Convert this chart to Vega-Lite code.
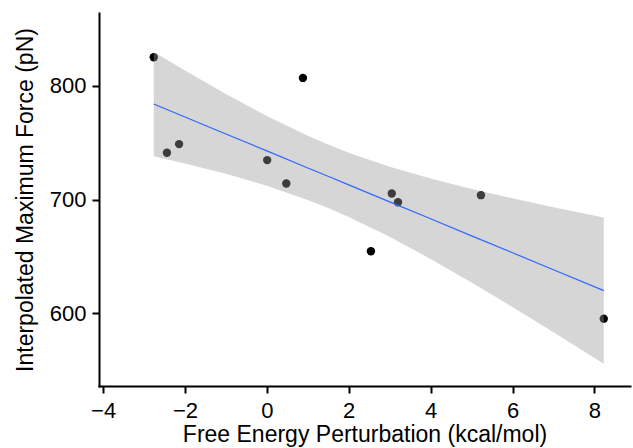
{
  "$schema": "https://vega.github.io/schema/vega-lite/v6.json",
  "width": 531,
  "height": 373,
  "autosize": {"type": "none"},
  "padding": {"left": 99, "top": 13, "right": 3, "bottom": 62},
  "background": "white",
  "datasets": {
    "pts": [
      {"fep": -2.763, "force": 825.3},
      {"fep": -2.441, "force": 741.2},
      {"fep": -2.144, "force": 748.8},
      {"fep": 0.008, "force": 734.7},
      {"fep": 0.475, "force": 714.1},
      {"fep": 0.881, "force": 807.1},
      {"fep": 2.542, "force": 654.4},
      {"fep": 3.051, "force": 705.3},
      {"fep": 3.203, "force": 697.6},
      {"fep": 5.229, "force": 703.8},
      {"fep": 8.229, "force": 595.0}
    ],
    "band": [
      {"fep": -2.763, "fit": 784.1, "lo": 738.1, "hi": 830.0},
      {"fep": -2.0, "fit": 772.7, "lo": 731.7, "hi": 813.6},
      {"fep": -1.0, "fit": 757.7, "lo": 722.6, "hi": 792.9},
      {"fep": 0.0, "fit": 742.8, "lo": 712.1, "hi": 773.5},
      {"fep": 1.0, "fit": 727.8, "lo": 699.6, "hi": 756.1},
      {"fep": 1.48, "fit": 720.7, "lo": 692.7, "hi": 748.6},
      {"fep": 2.0, "fit": 712.9, "lo": 684.6, "hi": 741.2},
      {"fep": 3.0, "fit": 697.9, "lo": 667.1, "hi": 728.8},
      {"fep": 4.0, "fit": 683.0, "lo": 647.6, "hi": 718.4},
      {"fep": 5.0, "fit": 668.0, "lo": 626.8, "hi": 709.2},
      {"fep": 6.0, "fit": 653.1, "lo": 605.2, "hi": 701.0},
      {"fep": 7.0, "fit": 638.1, "lo": 583.0, "hi": 693.2},
      {"fep": 8.229, "fit": 619.7, "lo": 555.3, "hi": 684.2}
    ]
  },
  "layer": [
    {
      "data": {"name": "pts"},
      "mark": {"type": "circle", "size": 70, "color": "black", "opacity": 1},
      "encoding": {
        "x": {"field": "fep", "type": "quantitative"},
        "y": {"field": "force", "type": "quantitative"}
      }
    },
    {
      "data": {"name": "band"},
      "mark": {"type": "area", "color": "#999999", "opacity": 0.4},
      "encoding": {
        "x": {"field": "fep", "type": "quantitative"},
        "y": {"field": "lo", "type": "quantitative"},
        "y2": {"field": "hi"}
      }
    },
    {
      "data": {"name": "band"},
      "mark": {"type": "line", "color": "#3366FF", "strokeWidth": 1.2},
      "encoding": {
        "x": {"field": "fep", "type": "quantitative"},
        "y": {"field": "fit", "type": "quantitative"}
      }
    }
  ],
  "encoding": {
    "x": {
      "field": "fep",
      "type": "quantitative",
      "scale": {"domain": [-4.10, 8.87], "nice": false, "zero": false},
      "axis": {
        "title": "Free Energy Perturbation (kcal/mol)",
        "values": [-4, -2, 0, 2, 4, 6, 8],
        "titlePadding": 2
      }
    },
    "y": {
      "field": "force",
      "type": "quantitative",
      "scale": {"domain": [535.7, 864.3], "nice": false, "zero": false},
      "axis": {
        "title": "Interpolated Maximum Force (pN)",
        "values": [600, 700, 800],
        "titlePadding": 12
      }
    }
  },
  "config": {
    "view": {"stroke": null},
    "font": "Liberation Sans",
    "axis": {
      "grid": false,
      "domainColor": "black",
      "domainWidth": 2,
      "domainCap": "square",
      "tickColor": "black",
      "tickWidth": 2,
      "tickSize": 7,
      "labelFont": "Liberation Sans",
      "labelFontSize": 22,
      "labelColor": "black",
      "titleFont": "Liberation Sans",
      "titleFontSize": 23,
      "titleFontWeight": "normal",
      "titleColor": "black"
    },
    "axisX": {"labelPadding": 7},
    "axisY": {"labelPadding": 6}
  }
}
